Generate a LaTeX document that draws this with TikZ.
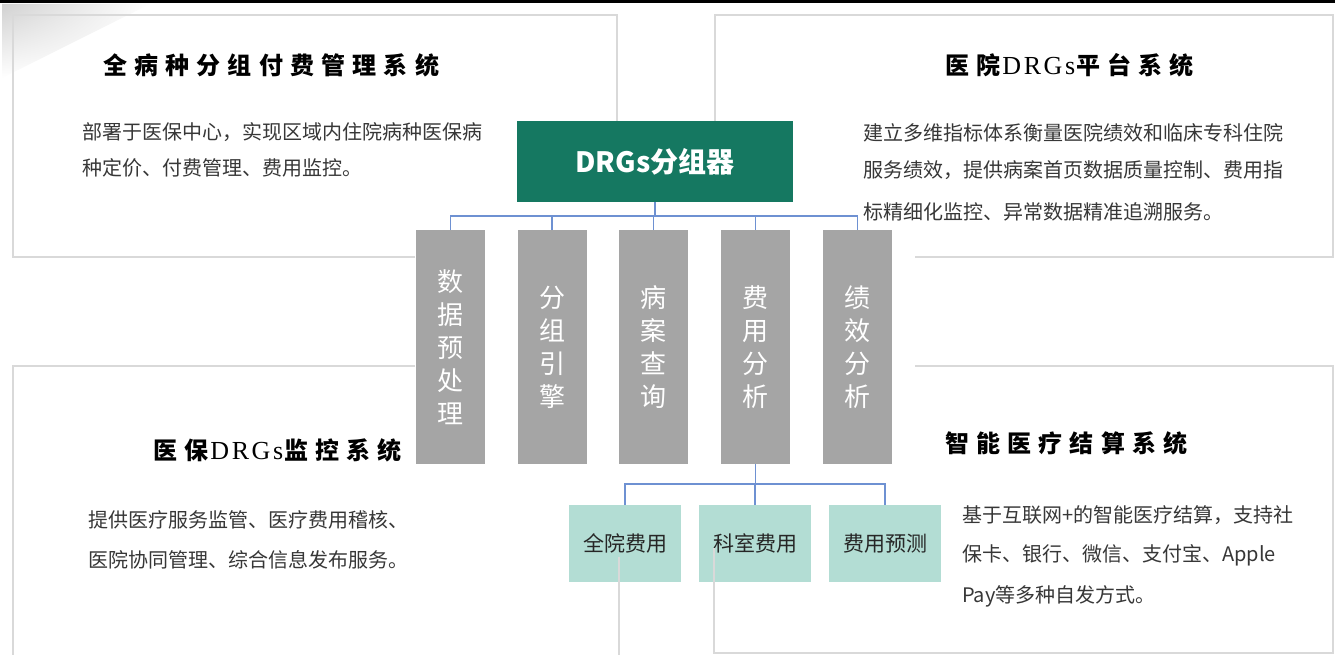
\documentclass[tikz,border=0pt]{standalone}
\usepackage{fontspec}
\usetikzlibrary{shadings}
\setmainfont{Liberation Sans}
\newfontfamily\cjk{Noto Sans CJK SC}
\newfontfamily\cjkt[LetterSpace=30]{Noto Sans CJK SC}
\newfontfamily\sert[LetterSpace=10]{Liberation Serif}
\definecolor{dgreen}{RGB}{21,120,97}
\definecolor{lteal}{RGB}{179,221,212}
\definecolor{gboxc}{RGB}{165,165,165}
\definecolor{connc}{RGB}{110,145,210}
\definecolor{panelc}{RGB}{217,217,217}
\definecolor{bodyc}{RGB}{55,55,55}
\tikzset{
  panel/.style={draw=panelc, line width=1.5pt},
  conn/.style={draw=connc, line width=1.5pt},
  gbox/.style={fill=gboxc, draw=none, minimum width=69pt, minimum height=234pt, inner sep=0pt, align=center, text=white, font=\cjk\fontsize{26}{33}\selectfont},
  drgbox/.style={fill=dgreen, draw=none, minimum width=276pt, minimum height=81pt, inner sep=0pt, text=white, font=\cjk\bfseries\fontsize{28}{32}\selectfont},
  tbox/.style={fill=lteal, draw=none, minimum width=112pt, minimum height=77pt, inner sep=0pt, text=black!85, font=\cjk\fontsize{21}{24}\selectfont},
  ttl/.style={anchor=west, inner sep=0pt, text=black, font=\cjkt\bfseries\fontsize{24}{28}\selectfont},
  body/.style={anchor=base west, inner sep=0pt, text=bodyc, font=\cjk\fontsize{20}{24}\selectfont}
}
\newcommand{\drgsword}{\hspace{2pt}{\sert\mdseries\fontsize{26}{28}\selectfont DRGs}\hspace{1pt}}
\begin{document}
\begin{tikzpicture}[x=1pt,y=-1pt]
\useasboundingbox (0,0) rectangle (1335,655);
\fill[white] (0,0) rectangle (1335,655);
% corner fade
\shade[upper left=black!18, upper right=white, lower left=white, lower right=white] (2,4) -- (150,4) -- (2,78) -- cycle;
% top rule
\draw[line width=3pt] (0,1.5) -- (1335,1.5);

% central tree
\node[drgbox] (drg) at (655,161.5) {DRGs分组器};
\node[gbox] (b1) at (450.5,347) {数\\据\\预\\处\\理};
\node[gbox] (b2) at (552,347) {分\\组\\引\\擎};
\node[gbox] (b3) at (653.5,347) {病\\案\\查\\询};
\node[gbox] (b4) at (755.5,347) {费\\用\\分\\析};
\node[gbox] (b5) at (857.5,347) {绩\\效\\分\\析};
\node[tbox] (t1) at (625,543.5) {全院费用};
\node[tbox] (t2) at (755,543.5) {科室费用};
\node[tbox] (t3) at (885,543.5) {费用预测};

\coordinate (bus1) at (655,216);
\draw[conn] (drg.south) -- (drg.south |- bus1);
\draw[conn] (b1.north) -- (b1.north |- bus1) -- (b5.north |- bus1) -- (b5.north);
\draw[conn] (b2.north) -- (b2.north |- bus1);
\draw[conn] (b3.north) -- (b3.north |- bus1);
\draw[conn] (b4.north) -- (b4.north |- bus1);
\coordinate (bus2) at (756,484);
\draw[conn] (b4.south) -- (b4.south |- bus2);
\draw[conn] (t1.north) -- (t1.north |- bus2) -- (t3.north |- bus2) -- (t3.north);
\draw[conn] (t2.north) -- (t2.north |- bus2);

% panels (visible parts)
\draw[panel] (415,257) -- (13,257) -- (13,15) -- (617,15) -- (617,121);
\draw[panel] (715,121) -- (715,15) -- (1333,15) -- (1333,257) -- (915,257);
\draw[panel] (415,366) -- (13,366) -- (13,655);
\draw[panel] (619,557) -- (619,655);
\draw[panel] (915,366) -- (1333,366) -- (1333,653) -- (714,653) -- (714,548);

% titles
\node[ttl] (ttl1) at (103,65) {全病种分组付费管理系统};
\node[ttl] (ttl2) at (945,65) {医院\drgsword 平台系统};
\node[ttl] (ttl3) at (153,450) {医保\drgsword 监控系统};
\node[ttl] (ttl4) at (945,443) {智能医疗结算系统};

% bodies
\node[body] (tl1) at (82,139.5) {部署于医保中心，实现区域内住院病种医保病};
\node[body] (tl2) at (82,175.5) {种定价、付费管理、费用监控。};
\node[body] (tr1) at (863,140.5) {建立多维指标体系衡量医院绩效和临床专科住院};
\node[body] (tr2) at (863,177.5) {服务绩效，提供病案首页数据质量控制、费用指};
\node[body] (tr3) at (863,219.5) {标精细化监控、异常数据精准追溯服务。};
\node[body] (bl1) at (88,527.5) {提供医疗服务监管、医疗费用稽核、};
\node[body] (bl2) at (88,567.5) {医院协同管理、综合信息发布服务。};
\node[body] (br1) at (962,522.5) {基于互联网+的智能医疗结算，支持社};
\node[body] (br2) at (962,561.5) {保卡、银行、微信、支付宝、Apple};
\node[body] (br3) at (962,602.5) {Pay等多种自发方式。};
\end{tikzpicture}
\end{document}
